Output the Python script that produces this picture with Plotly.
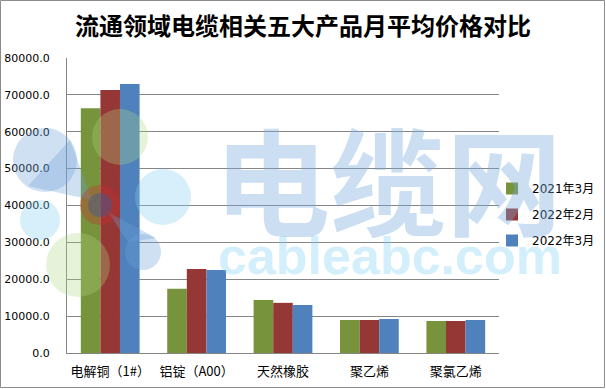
import plotly.graph_objects as go

categories = ["电解铜（1#）", "铝锭（A00）", "天然橡胶", "聚乙烯", "聚氯乙烯"]
series_names = ["2021年3月", "2022年2月", "2022年3月"]
s2021_03 = [66400, 17400, 14400, 8950, 8680]
s2022_02 = [71300, 22800, 13600, 8950, 8680]
s2022_03 = [72950, 22500, 13050, 9220, 8950]
colors = ["#77933c", "#953735", "#4f81bd"]
tick_vals = [0, 10000, 20000, 30000, 40000, 50000, 60000, 70000, 80000]
tick_text = ["0.0", "10000.0", "20000.0", "30000.0", "40000.0", "50000.0", "60000.0", "70000.0", "80000.0"]

W, H = 606, 389
L, R, T, B = 67, 107, 58, 36
pw, ph = W - L - R, H - T - B

fig = go.Figure()
for i, (name, vals) in enumerate(zip(series_names, [s2021_03, s2022_02, s2022_03])):
    fig.add_trace(go.Bar(x=categories, y=vals, name=name, marker_color=colors[i],
                         marker_line_width=0, legendgroup=name))

def px_x(p):
    return (p - L) / pw

def px_y(p):
    return (H - B - p) / ph

fig.update_layout(
    width=W, height=H,
    margin=dict(l=L, r=R, t=T, b=B, autoexpand=False),
    paper_bgcolor="white", plot_bgcolor="white",
    barmode="group", bargap=0.32, bargroupgap=0,
    font=dict(family="Noto Sans CJK SC, DejaVu Sans, sans-serif", color="#000000"),
    title=dict(text="<b>流通领域电缆相关五大产品月平均价格对比</b>",
               x=0.5, xref="container", xanchor="center",
               y=1 - 27 / H, yref="container", yanchor="middle",
               font=dict(size=24, family="Noto Sans CJK SC", color="#000000")),
    xaxis=dict(showline=True, linecolor="#868686", linewidth=1, ticks="",
               ticklabelstandoff=6,
               tickfont=dict(size=13, family="Noto Sans CJK SC, sans-serif", color="#000"),
               showgrid=False, fixedrange=True),
    yaxis=dict(range=[0, 80000], tickvals=tick_vals, ticktext=tick_text,
               showline=True, linecolor="#868686", linewidth=1,
               showgrid=True, gridcolor="#868686", gridwidth=1,
               ticks="outside", ticklen=0, tickcolor="#868686",
               ticklabelstandoff=14,
               tickfont=dict(size=11, family="DejaVu Sans, sans-serif", color="#000"),
               zeroline=False, fixedrange=True),
    legend=dict(x=px_x(492), y=px_y(174), xanchor="left", yanchor="top",
                font=dict(size=12, family="DejaVu Sans, Noto Sans CJK SC, sans-serif", color="#000"),
                tracegroupgap=7, bgcolor="rgba(0,0,0,0)", itemwidth=30, traceorder="grouped"),
    showlegend=True,
)

# outer frame of the chart
fig.add_shape(type="rect", xref="paper", yref="paper",
              x0=px_x(0.5), x1=px_x(W - 1.5), y0=px_y(H - 1.5), y1=px_y(0.5),
              line=dict(color="#8c8c8c", width=1), fillcolor="rgba(0,0,0,0)", layer="below")

# watermark logo (decorative circles)
def circ(cx, cy, r, color):
    fig.add_shape(type="circle", xref="paper", yref="paper",
                  x0=px_x(cx - r), x1=px_x(cx + r), y0=px_y(cy + r), y1=px_y(cy - r),
                  line=dict(width=0), fillcolor=color, layer="above")

def poly(points, color):
    path = "M " + " L ".join(f"{px_x(x)},{px_y(y)}" for x, y in points) + " Z"
    fig.add_shape(type="path", xref="paper", yref="paper", path=path,
                  line=dict(width=0), fillcolor=color, layer="above")

blue_petal = "rgba(110,160,215,0.33)"
green_c = "rgba(175,215,130,0.30)"
cyan_c = "rgba(130,205,240,0.33)"
circ(45, 160, 32, blue_petal)
poly([(28, 186), (70, 140), (92, 200)], blue_petal)
circ(143, 252, 18, blue_petal)
poly([(128, 242), (156, 238), (108, 212)], blue_petal)
circ(120, 137, 28, green_c)
circ(78, 265, 32, green_c)
circ(163, 197, 28, cyan_c)
circ(40, 220, 20, cyan_c)
circ(100, 205, 20, "rgba(200,50,50,0.35)")
circ(100, 205, 12, "rgba(60,90,150,0.45)")

# watermark text
fig.add_annotation(text="<b>电缆网</b>", xref="paper", yref="paper",
                   x=px_x(388), y=px_y(176), xanchor="center", yanchor="middle", showarrow=False,
                   font=dict(size=116, family="Noto Sans CJK SC", color="rgba(120,170,220,0.38)"))
fig.add_annotation(text="<b>cableabc.com</b>", xref="paper", yref="paper",
                   x=px_x(390), y=px_y(256), xanchor="center", yanchor="middle", showarrow=False,
                   font=dict(size=52, family="Liberation Sans, Arial", color="rgba(130,210,245,0.35)"))

fig.write_html("out.html")
